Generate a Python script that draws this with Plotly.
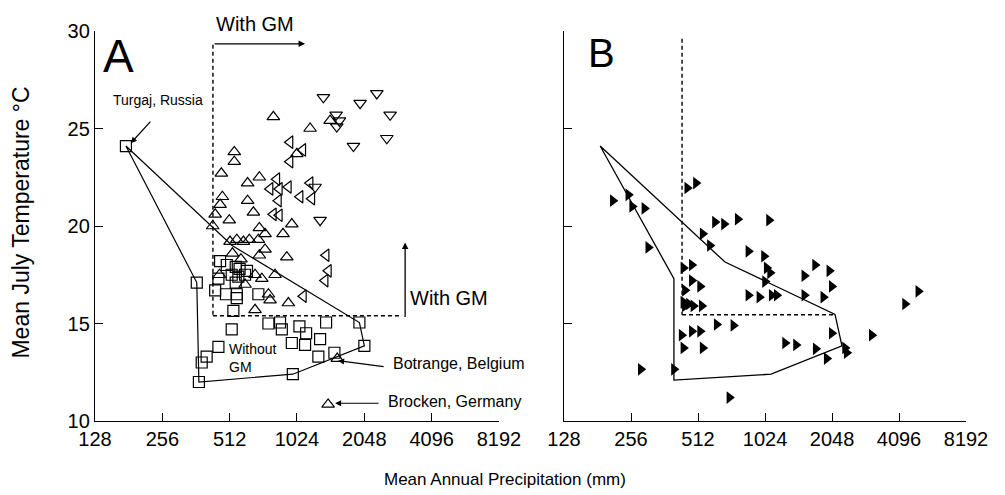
import math
import plotly.graph_objects as go

# ---------------- data ----------------
x_ticks = [128, 256, 512, 1024, 2048, 4096, 8192]
x_tick_labels = ["128", "256", "512", "1024", "2048", "4096", "8192"]
y_ticks = [10, 15, 20, 25, 30]

# Panel A: open squares (without GM)
sq_p = [176, 365, 441, 493, 551, 551, 688, 532, 523, 763, 860, 876, 1050, 1125, 1382,
        971, 1113, 1299, 1276, 1505, 456, 404, 384, 373, 981, 1947, 2049, 464, 456,
        497, 545, 567, 612, 523, 560, 600, 545]
sq_t = [24.1, 17.1, 16.7, 16.5, 16.5, 16.3, 16.5, 15.65, 14.7, 15.0, 15.05, 14.7, 14.85, 14.5, 15.05,
        14.0, 13.9, 14.2, 13.3, 13.5, 13.8, 13.3, 13.0, 12.0, 12.4, 15.05, 13.85, 18.2, 17.3,
        18.0, 17.9, 17.8, 17.7, 17.5, 17.4, 17.5, 17.1]

# Panel A: open up-triangles
up_p = [1440, 1172, 803, 537, 537, 470, 695, 616, 475, 464, 616, 654, 441, 510, 430, 971,
        695, 737, 887, 514, 551, 590, 627, 688, 737, 922, 695, 817, 763, 776, 937, 665,
        665, 713, 461, 1022, 1411, 1550, 527, 575, 600]
up_t = [25.4, 25.0, 25.6, 23.8, 23.3, 22.7, 22.5, 22.2, 21.5, 21.1, 21.3, 20.7, 20.6, 20.3, 20.0, 20.1,
        19.9, 19.6, 19.6, 19.2, 19.3, 19.2, 19.3, 19.3, 18.8, 18.4, 18.5, 17.5, 16.5, 16.2, 16.05, 15.7,
        17.5, 17.3, 17.5, 23.7, 10.85, 13.2, 18.6, 18.3, 17.0]

# Panel A: open left-triangles
lt_p = [953, 1087, 953, 832, 776, 854, 937, 1172, 1057, 1193, 846, 803, 854, 1382, 1415, 1368, 1094]
lt_t = [24.3, 23.9, 23.3, 22.4, 21.9, 21.9, 22.0, 22.2, 21.5, 21.4, 21.3, 20.6, 20.55, 18.5, 17.7, 17.2, 16.4]

# Panel A: open down-triangles
dn_p = [1344, 1961, 2330, 2671, 2582, 1831, 1532, 1585, 1542, 1234, 1299]
dn_t = [26.6, 26.3, 26.8, 25.7, 24.5, 24.1, 25.7, 25.4, 25.1, 22.0, 20.3]

# Panel A: envelope of sites without GM
hullA_p = [176, 365, 373, 981, 2049, 1947, 525, 176]
hullA_t = [24.1, 17.1, 12.0, 12.4, 13.85, 15.05, 19.0, 24.1]

# Panel A: GM thresholds
gmA_vert_p = [431, 431]
gmA_vert_t = [29.3, 15.4]
gmA_horz_p = [431, 3020]
gmA_horz_t = [15.4, 15.4]

# Panel B: filled right-triangles
b_p = [212, 249, 259, 294, 306, 458, 501, 610, 670, 772, 1067, 537, 579, 862, 1013, 440, 480,
       1042, 1079, 1024, 480, 523, 447, 862, 966, 1097, 1156, 447, 488, 532, 1538, 1718, 1992,
       1538, 1872, 2042, 4360, 5001, 621, 738, 2042, 3089, 432, 480, 523, 440, 537, 1260, 1411,
       1730, 1938, 2343, 2384, 283, 399, 708, 440, 466]
b_t = [21.3, 21.6, 21.0, 20.9, 18.9, 21.95, 22.2, 20.2, 20.1, 20.35, 20.3, 19.6, 19.0, 18.7, 18.45, 17.85, 18.0,
       17.85, 17.6, 17.15, 17.2, 16.9, 16.7, 16.45, 16.35, 16.45, 16.45, 15.9, 15.9, 15.9, 17.45, 18.0, 17.7,
       16.45, 16.35, 16.9, 16.0, 16.65, 14.95, 14.9, 14.5, 14.4, 14.4, 14.6, 14.6, 13.75, 13.75, 14.0, 13.9,
       13.7, 13.2, 13.75, 13.5, 12.65, 12.65, 11.2, 16.1, 16.0]

hullB_p = [186, 399, 399, 1090, 2270, 2113, 677, 186]
hullB_t = [24.1, 17.3, 12.1, 12.4, 13.85, 15.47, 18.15, 24.1]

gmB_vert_p = [434, 434]
gmB_vert_t = [29.6, 15.45]
gmB_horz_p = [434, 2113]
gmB_horz_t = [15.45, 15.45]

# ---------------- figure ----------------
FONT = "Liberation Sans"
L = math.log10
fig = go.Figure()

def open_marker(sym):
    return dict(symbol=sym, size=11, color="black", line=dict(color="black", width=1.2))

DASH = "4px,3px"
fig.add_trace(go.Scatter(x=hullA_p, y=hullA_t, mode="lines",
                         line=dict(color="black", width=1.2), xaxis="x", yaxis="y"))
fig.add_trace(go.Scatter(x=gmA_vert_p, y=gmA_vert_t, mode="lines",
                         line=dict(color="black", width=1.4, dash=DASH), xaxis="x", yaxis="y"))
fig.add_trace(go.Scatter(x=gmA_horz_p, y=gmA_horz_t, mode="lines",
                         line=dict(color="black", width=1.4, dash=DASH), xaxis="x", yaxis="y"))
fig.add_trace(go.Scatter(x=sq_p, y=sq_t, mode="markers", marker=open_marker("square-open"),
                         xaxis="x", yaxis="y"))
fig.add_trace(go.Scatter(x=up_p, y=up_t, mode="markers", marker=open_marker("triangle-up-open"),
                         xaxis="x", yaxis="y"))
fig.add_trace(go.Scatter(x=lt_p, y=lt_t, mode="markers", marker=open_marker("triangle-left-open"),
                         xaxis="x", yaxis="y"))
fig.add_trace(go.Scatter(x=dn_p, y=dn_t, mode="markers", marker=open_marker("triangle-down-open"),
                         xaxis="x", yaxis="y"))

fig.add_trace(go.Scatter(x=hullB_p, y=hullB_t, mode="lines",
                         line=dict(color="black", width=1.3), xaxis="x2", yaxis="y2"))
fig.add_trace(go.Scatter(x=gmB_vert_p, y=gmB_vert_t, mode="lines",
                         line=dict(color="black", width=1.4, dash=DASH), xaxis="x2", yaxis="y2"))
fig.add_trace(go.Scatter(x=gmB_horz_p, y=gmB_horz_t, mode="lines",
                         line=dict(color="black", width=1.4, dash=DASH), xaxis="x2", yaxis="y2"))
fig.add_trace(go.Scatter(x=b_p, y=b_t, mode="markers",
                         marker=dict(symbol="triangle-right", size=11, color="black"),
                         xaxis="x2", yaxis="y2"))

xaxis_common = dict(type="log", range=[L(128), L(8192)], tickvals=x_ticks, ticktext=x_tick_labels,
                    showline=True, linecolor="black", linewidth=1.3, ticks="inside", ticklen=8,
                    tickcolor="black", tickwidth=1.3, showgrid=False, zeroline=False,
                    tickfont=dict(family=FONT, size=20, color="black"))
yaxis_common = dict(range=[10, 30], tickvals=y_ticks, showline=True, linecolor="black",
                    linewidth=1.3, ticks="inside", ticklen=8, tickcolor="black", tickwidth=1.3,
                    showgrid=False, zeroline=False,
                    tickfont=dict(family=FONT, size=20, color="black"))

# the page body adds an 8px offset, so the figure is sized/margined to compensate
fig.update_layout(
    width=997, height=487,
    margin=dict(l=87, r=39, t=18, b=74),
    paper_bgcolor="white", plot_bgcolor="white",
    showlegend=False,
    font=dict(family=FONT, color="black"),
    xaxis=dict(domain=[0, 0.4638], anchor="y", **xaxis_common),
    yaxis=dict(domain=[0, 1], anchor="x", **yaxis_common),
    xaxis2=dict(domain=[0.5385, 1], anchor="y2", **xaxis_common),
    yaxis2=dict(domain=[0, 1], anchor="x2", showticklabels=False, **yaxis_common),
)

ann = []
def arrow(xr, yr, x, y, ax, ay, w=1.2):
    ann.append(dict(x=L(x), y=y, xref=xr, yref=yr, text="", showarrow=True, arrowhead=2,
                    arrowsize=1, arrowwidth=w, arrowcolor="black", ax=ax, ay=ay))

def label(xr, yr, x, y, text, size, anchor="left", align="left"):
    ann.append(dict(x=L(x), y=y, xref=xr, yref=yr, text=text, showarrow=False,
                    xanchor=anchor, yanchor="middle", align=align,
                    font=dict(size=size, family=FONT, color="black")))

# panel letters
label("x", "y", 163, 28.7, "A", 46, anchor="center")
label("x2", "y2", 188, 28.85, "B", 40, anchor="center")
# Turgaj
label("x", "y", 244, 26.45, "Turgaj, Russia", 14, anchor="center")
arrow("x", "y", 185, 24.25, 21, -23)
# With GM (top)
arrow("x", "y", 1113, 29.34, -92, 0, 1.3)
label("x", "paper", 665, 1.0177, "With GM", 20, anchor="center")
# With GM (vertical)
arrow("x", "y", 3118, 19.16, 0, 76, 1.3)
label("x", "y", 3220, 16.3, "With GM", 20)
# Without GM
label("x", "y", 500, 13.25, "Without<br>GM", 14)
# Botrange
arrow("x", "y", 1564, 13.09, 47, 6)
label("x", "y", 2690, 12.95, "Botrange, Belgium", 16)
# Brocken
arrow("x", "y", 1516, 10.91, 45, 0)
label("x", "y", 2570, 11.0, "Brocken, Germany", 16)

# axis titles
ann.append(dict(x=(505 - 95) / 871, y=(421 - 480) / 395, xref="paper", yref="paper",
                text="Mean Annual Precipitation (mm)", showarrow=False,
                xanchor="center", yanchor="middle",
                font=dict(size=17, family=FONT)))
ann.append(dict(x=(21 - 95) / 871, y=(421 - 220) / 395, xref="paper", yref="paper",
                text="Mean July Temperature °C", showarrow=False, textangle=-90,
                xanchor="center", yanchor="middle",
                font=dict(size=23, family=FONT)))
fig.update_layout(annotations=ann)

fig.write_html("out.html")
